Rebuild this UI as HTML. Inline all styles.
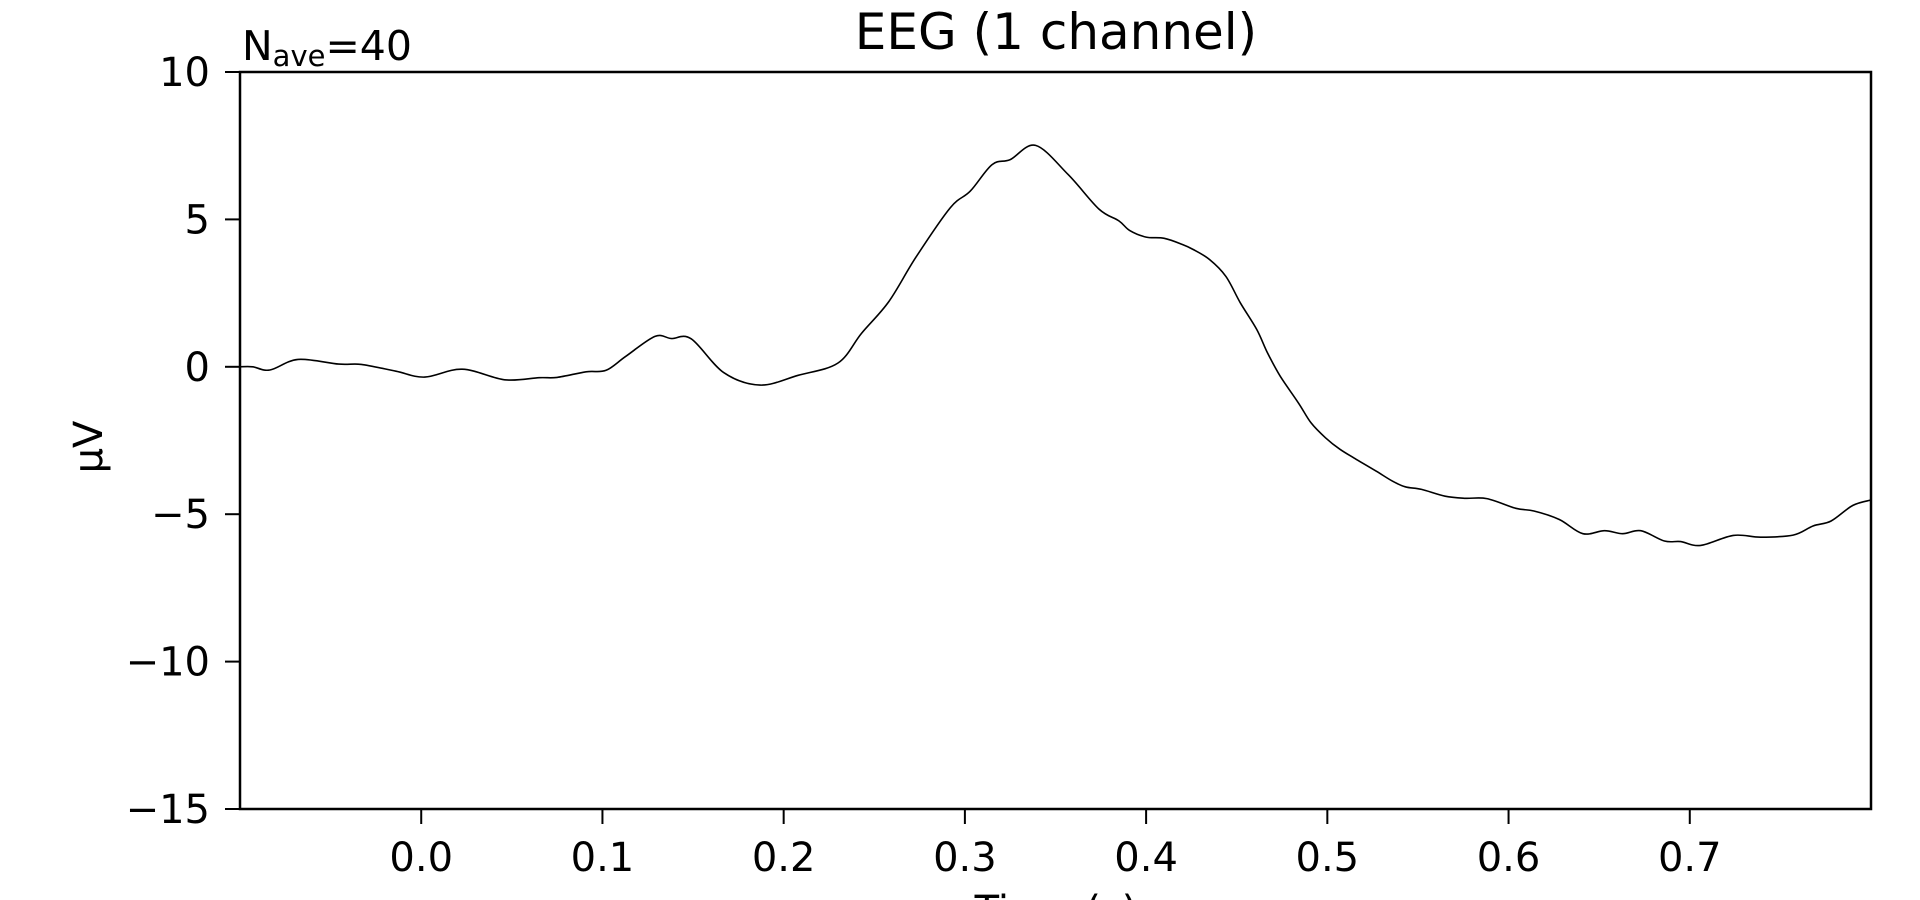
<!DOCTYPE html>
<html><head><meta charset="utf-8"><style>
html,body{margin:0;padding:0;background:#fff;width:1920px;height:900px;overflow:hidden}
svg{display:block;font-family:"DejaVu Sans","Liberation Sans",sans-serif}
</style></head><body>
<svg id="chart" width="1920" height="900" xmlns="http://www.w3.org/2000/svg">
<text x="1056" y="49" font-size="50" text-anchor="middle">EEG (1 channel)</text>
<text x="242" y="60" font-size="41">N<tspan font-size="29" dy="6">ave</tspan><tspan dy="-6">=40</tspan></text>
<text transform="translate(102,447) rotate(-90)" font-size="40" text-anchor="middle">µV</text>
<text x="1056" y="924" font-size="40" text-anchor="middle">Time (s)</text>
<g id="axes"></g>
<path id="trace" fill="none" stroke="#000" stroke-width="1.6" stroke-linejoin="round"/>
<rect x="240" y="72" width="1631" height="737" fill="none" stroke="#000" stroke-width="2.5"/>
</svg>
<script>
const times = [-0.1,-0.093,-0.0835,-0.068,-0.0455,-0.033,-0.014,0.002,0.0226,0.046,0.065,0.075,0.091,0.102,0.113,0.129,0.138,0.149,0.167,0.187,0.208,0.230,0.243,0.258,0.273,0.292,0.303,0.315,0.325,0.339,0.357,0.374,0.385,0.391,0.4,0.41,0.42,0.426,0.435,0.444,0.452,0.461,0.467,0.474,0.484,0.491,0.499,0.507,0.516,0.527,0.536,0.543,0.552,0.565,0.576,0.588,0.604,0.614,0.628,0.641,0.653,0.663,0.673,0.686,0.695,0.706,0.724,0.739,0.757,0.768,0.778,0.790,0.8];
const values = [0,0,-0.11,0.25,0.09,0.08,-0.15,-0.35,-0.08,-0.44,-0.37,-0.36,-0.17,-0.12,0.36,1.03,0.96,0.95,-0.2,-0.62,-0.29,0.13,1.14,2.21,3.72,5.40,5.96,6.86,7.03,7.51,6.52,5.35,4.95,4.62,4.4,4.36,4.15,3.98,3.64,3.07,2.17,1.27,0.47,-0.32,-1.22,-1.9,-2.41,-2.8,-3.14,-3.54,-3.88,-4.07,-4.16,-4.39,-4.46,-4.47,-4.8,-4.89,-5.18,-5.66,-5.56,-5.66,-5.56,-5.91,-5.93,-6.06,-5.72,-5.78,-5.71,-5.40,-5.23,-4.70,-4.52];
const xTicks = [0.0,0.1,0.2,0.3,0.4,0.5,0.6,0.7];
const xTickLabels = ["0.0","0.1","0.2","0.3","0.4","0.5","0.6","0.7"];
const yTicks = [10,5,0,-5,-10,-15];
const yTickLabels = ["10","5","0","\u22125","\u221210","\u221215"];

const L=240,R=1871,T=72,B=809;
const xmin=-0.1,xmax=0.8,ymin=-15,ymax=10;
const sx=t=>L+(t-xmin)/(xmax-xmin)*(R-L);
const sy=v=>B-(v-ymin)/(ymax-ymin)*(B-T);
const NS="http://www.w3.org/2000/svg";
const axes=document.getElementById('axes');
function mk(tag,attrs){const e=document.createElementNS(NS,tag);for(const k in attrs)e.setAttribute(k,attrs[k]);axes.appendChild(e);return e;}
xTicks.forEach((t,i)=>{
  const ln=mk('line',{x1:sx(t),x2:sx(t),y1:B,y2:B+15,stroke:'#000','stroke-width':2});
  
  
  const tx=mk('text',{x:sx(t),y:871,'font-size':40,'text-anchor':'middle'});
  tx.textContent=xTickLabels[i];
  
  
});
yTicks.forEach((v,i)=>{
  const ln=mk('line',{x1:L-15,x2:L,y1:sy(v),y2:sy(v),stroke:'#000','stroke-width':2});
  
  
  const tx=mk('text',{x:L-30,y:sy(v)+14,'font-size':40,'text-anchor':'end'});
  tx.textContent=yTickLabels[i];
  
  
});
const pts=times.map((t,i)=>[sx(t),sy(values[i])]);
let d='M'+pts[0][0].toFixed(1)+','+pts[0][1].toFixed(1);
for(let i=0;i<pts.length-1;i++){
  const p0=pts[Math.max(0,i-1)],p1=pts[i],p2=pts[i+1],p3=pts[Math.min(pts.length-1,i+2)];
  const c1=[p1[0]+(p2[0]-p0[0])/6,p1[1]+(p2[1]-p0[1])/6];
  const c2=[p2[0]-(p3[0]-p1[0])/6,p2[1]-(p3[1]-p1[1])/6];
  d+=' C'+c1.map(n=>n.toFixed(1)).join(',')+' '+c2.map(n=>n.toFixed(1)).join(',')+' '+p2.map(n=>n.toFixed(1)).join(',');
}
document.getElementById('trace').setAttribute('d',d);
</script>
</body></html>
